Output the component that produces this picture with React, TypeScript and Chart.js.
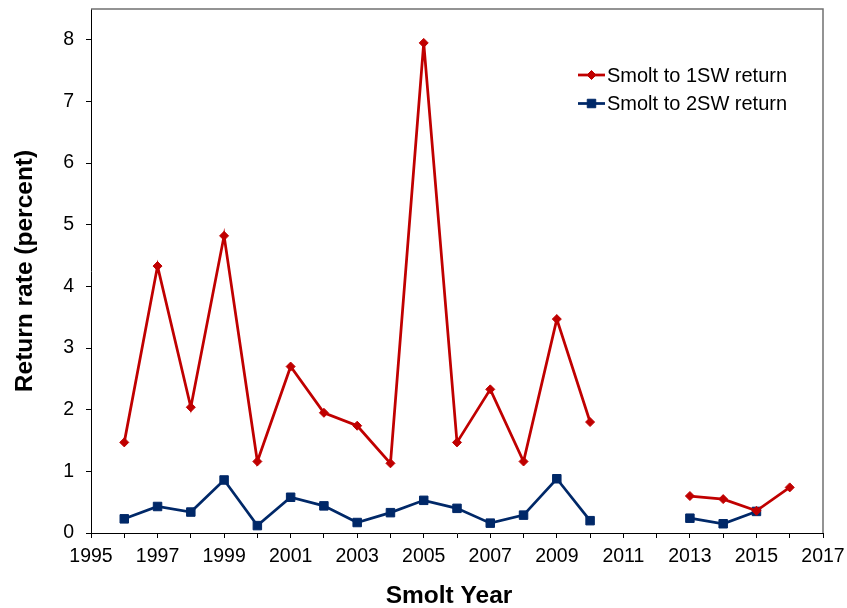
import React, { useEffect, useRef } from "react";
import { Chart, registerables } from "chart.js";

Chart.register(...registerables);

const years = [1996, 1997, 1998, 1999, 2000, 2001, 2002, 2003, 2004, 2005, 2006, 2007, 2008, 2009, 2010, 2011, 2012, 2013, 2014, 2015, 2016];
const smolt1SW = [1.47, 4.33, 2.04, 4.82, 1.16, 2.70, 1.95, 1.74, 1.13, 7.95, 1.47, 2.33, 1.16, 3.47, 1.80, null, null, 0.60, 0.55, 0.36, 0.74];
const smolt2SW = [0.23, 0.43, 0.34, 0.86, 0.12, 0.58, 0.44, 0.17, 0.33, 0.53, 0.40, 0.16, 0.29, 0.88, 0.20, null, null, 0.24, 0.15, 0.35, null];
const seriesLabels = ["Smolt to 1SW return", "Smolt to 2SW return"];
const xTitle = "Smolt Year";
const yTitle = "Return rate (percent)";

const RED = "#C00000";
const BLUE = "#002868";
const FONT = "'Liberation Sans', Arial, Helvetica, sans-serif";

const frameAndLegend = {
  id: "frameAndLegend",
  afterDraw(chart: any) {
    const { ctx, chartArea } = chart;
    ctx.save();
    // top and right frame
    ctx.strokeStyle = "#707070";
    ctx.lineWidth = 1.5;
    ctx.beginPath();
    ctx.moveTo(chartArea.left, chartArea.top);
    ctx.lineTo(chartArea.right, chartArea.top);
    ctx.lineTo(chartArea.right, chartArea.bottom);
    ctx.stroke();

    // x axis title
    ctx.fillStyle = "#000";
    ctx.font = `bold 24.5px ${FONT}`;
    ctx.textAlign = "center";
    ctx.textBaseline = "alphabetic";
    ctx.fillText(xTitle, chartArea.left + 358, chartArea.bottom + 70);

    // legend
    const x0 = chartArea.right - 245;
    const rows = [
      { y: chartArea.top + 66, color: RED, style: "rectRot", r: 4.5, label: seriesLabels[0] },
      { y: chartArea.top + 94.5, color: BLUE, style: "rect", r: 6, label: seriesLabels[1] },
    ];
    ctx.font = `20px ${FONT}`;
    ctx.textBaseline = "middle";
    ctx.textAlign = "left";
    for (const row of rows) {
      ctx.strokeStyle = row.color;
      ctx.lineWidth = 2.75;
      ctx.beginPath();
      ctx.moveTo(x0, row.y);
      ctx.lineTo(x0 + 27, row.y);
      ctx.stroke();
      ctx.fillStyle = row.color;
      ctx.lineWidth = 1;
      const cx = x0 + 13.5;
      ctx.beginPath();
      if (row.style === "rectRot") {
        ctx.moveTo(cx, row.y - row.r);
        ctx.lineTo(cx + row.r, row.y);
        ctx.lineTo(cx, row.y + row.r);
        ctx.lineTo(cx - row.r, row.y);
        ctx.closePath();
      } else {
        const s = row.r * Math.SQRT1_2;
        ctx.rect(cx - s, row.y - s, 2 * s, 2 * s);
      }
      ctx.fill();
      ctx.stroke();
      ctx.fillStyle = "#000";
      ctx.fillText(row.label, x0 + 29, row.y + 1);
    }
    ctx.restore();
  },
};

export default function App() {
  const ref = useRef<HTMLCanvasElement>(null);
  useEffect(() => {
    if (!ref.current) return;
    Chart.defaults.font.family = FONT;
    Chart.defaults.color = "#000";
    const chart = new Chart(ref.current, {
      type: "line",
      data: {
        datasets: [
          {
            label: seriesLabels[0],
            data: years.map((y, i) => ({ x: y, y: smolt1SW[i] })),
            borderColor: RED,
            backgroundColor: RED,
            borderWidth: 2.75,
            pointStyle: "rectRot",
            pointRadius: 4.5,
            pointBorderWidth: 1,
            spanGaps: false,
            tension: 0,
          },
          {
            label: seriesLabels[1],
            data: years.map((y, i) => ({ x: y, y: smolt2SW[i] })),
            borderColor: BLUE,
            backgroundColor: BLUE,
            borderWidth: 2.75,
            pointStyle: "rect",
            pointRadius: 6,
            pointBorderWidth: 1,
            spanGaps: false,
            tension: 0,
          },
        ],
      },
      options: {
        animation: false,
        responsive: false,
        maintainAspectRatio: false,
        layout: { padding: { top: 9, right: 24, bottom: 0, left: 0 } },
        plugins: { legend: { display: false }, tooltip: { enabled: false } },
        scales: {
          x: {
            type: "linear",
            min: 1995,
            max: 2017,
            afterFit(scale: any) {
              scale.height = 75;
              scale.paddingLeft = 0;
              scale.paddingRight = 0;
            },
            ticks: {
              stepSize: 1,
              autoSkip: false,
              maxRotation: 0,
              padding: 7,
              font: { size: 19.5 },
              callback: (v: any) => (Number(v) % 2 === 1 ? String(v) : ""),
            },
            grid: { display: true, drawOnChartArea: false, drawTicks: true, tickLength: 5, color: "#000" },
            border: { display: true, color: "#000", width: 1 },
            title: { display: false },
          },
          y: {
            min: 0,
            max: 8.5,
            afterBuildTicks(scale: any) {
              scale.ticks = scale.ticks.filter((t: any) => t.value <= 8);
            },
            afterFit(scale: any) {
              scale.width = 91;
              scale.paddingTop = 0;
              scale.paddingBottom = 0;
            },
            ticks: {
              stepSize: 1,
              padding: 12,
              font: { size: 19.5 },
            },
            grid: { display: true, drawOnChartArea: false, drawTicks: true, tickLength: 5, color: "#000" },
            border: { display: true, color: "#000", width: 1 },
            title: {
              display: true,
              text: yTitle,
              font: { size: 24.5, weight: "bold" },
              padding: { top: 11, bottom: 0 },
            },
          },
        },
      },
      plugins: [frameAndLegend],
    } as any);
    return () => chart.destroy();
  }, []);
  return (
    <div style={{ position: "absolute", left: 0, top: 0, width: 847, height: 608, background: "#fff" }}>
      <canvas ref={ref} width={847} height={608} style={{ width: 847, height: 608, display: "block" }} />
    </div>
  );
}
